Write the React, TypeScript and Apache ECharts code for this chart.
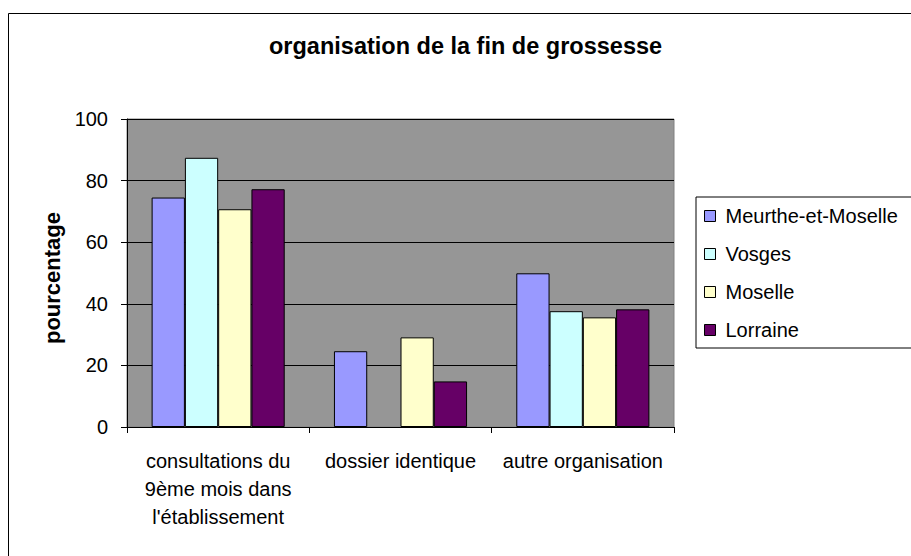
import React, { useEffect, useRef } from "react";
import * as echarts from "echarts";

const categories = [
  "consultations du\n9ème mois dans\nl'établissement",
  "dossier identique",
  "autre organisation",
];
const seriesNames = ["Meurthe-et-Moselle", "Vosges", "Moselle", "Lorraine"];
const meurtheEtMoselle = [74.5, 24.6, 49.9];
const vosges = [87.4, null, 37.6];
const moselle = [70.7, 29.1, 35.6];
const lorraine = [77.2, 14.8, 38.2];
const seriesColors = ["#9999FF", "#CCFFFF", "#FFFFCC", "#660066"];
const yTicks = { min: 0, max: 100, interval: 20 };

const FONT = "'Liberation Sans', Arial, sans-serif";

export default function App() {
  const ref = useRef<HTMLDivElement>(null);
  useEffect(() => {
    if (!ref.current) return;
    const chart = echarts.init(ref.current, undefined, { renderer: "svg" });
    const values = [meurtheEtMoselle, vosges, moselle, lorraine];
    chart.setOption({
      animation: false,
      backgroundColor: "#ffffff",
      textStyle: { fontFamily: FONT, color: "#000" },
      title: {
        text: "organisation de la fin de grossesse",
        left: 264,
        top: 29,
        padding: 5,
        textStyle: { fontFamily: FONT, fontSize: 23.5, fontWeight: "bold", color: "#000" },
      },
      graphic: [
        {
          type: "polyline",
          shape: { points: [[8.5, 600], [8.5, 13.5], [960, 13.5]] },
          style: { stroke: "#000", lineWidth: 1, fill: "none" },
          silent: true,
        },
      ],
      legend: {
        orient: "vertical",
        left: 696,
        top: 197,
        padding: [9, 400, 8, 8],
        borderColor: "#000",
        borderWidth: 1,
        itemWidth: 11,
        itemHeight: 11,
        itemGap: 18,
        icon: "rect",
        textStyle: { fontFamily: FONT, fontSize: 20, lineHeight: 20, color: "#000", padding: [0, 0, 0, 5] },
        data: seriesNames.map((n) => ({ name: n, itemStyle: { borderColor: "#000", borderWidth: 1 } })),
      },
      grid: {
        left: 127,
        top: 119,
        width: 547,
        height: 308,
        show: true,
        backgroundColor: "#969696",
        borderColor: "#808080",
        borderWidth: 1,
      },
      xAxis: {
        type: "category",
        data: categories,
        axisLine: { show: true, lineStyle: { color: "#000", width: 1 } },
        axisTick: { show: true, length: 6, lineStyle: { color: "#000" } },
        axisLabel: {
          interval: 0,
          margin: 20,
          fontFamily: FONT,
          fontSize: 20,
          lineHeight: 28,
          color: "#000",
          align: "center",
        },
      },
      yAxis: {
        type: "value",
        min: yTicks.min,
        max: yTicks.max,
        interval: yTicks.interval,
        name: "pourcentage",
        nameLocation: "middle",
        nameRotate: 90,
        nameGap: 63,
        nameTextStyle: {
          fontFamily: FONT,
          fontSize: 22,
          fontWeight: "bold",
          color: "#000",
          padding: [0, 10, 0, 0],
        },
        axisLine: { show: true, lineStyle: { color: "#000", width: 1 } },
        axisTick: { show: true, length: 6, lineStyle: { color: "#000" } },
        axisLabel: { margin: 19, fontFamily: FONT, fontSize: 20, color: "#000" },
        splitLine: { show: true, lineStyle: { color: "#000", width: 1 } },
      },
      series: seriesNames.map((name, i) => ({
        name,
        type: "bar",
        data: values[i],
        barGap: "0%",
        barCategoryGap: "27%",
        itemStyle: { color: seriesColors[i], borderColor: "#000", borderWidth: 1 },
      })),
    });
    return () => chart.dispose();
  }, []);
  return (
    <div
      ref={ref}
      style={{ position: "absolute", left: 0, top: 0, width: 911, height: 556 }}
    />
  );
}
